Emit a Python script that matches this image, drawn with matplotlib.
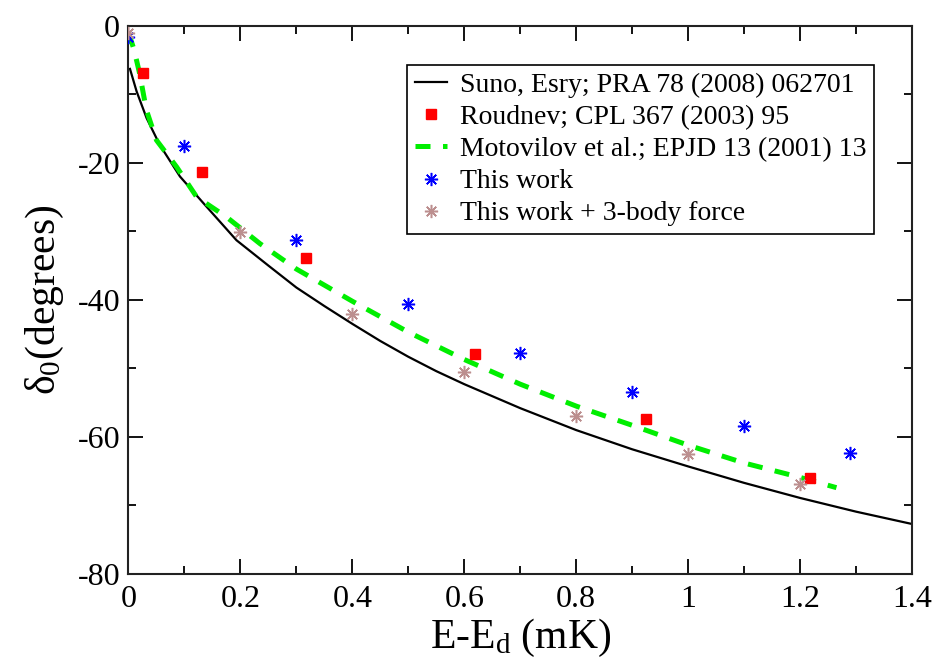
import matplotlib
matplotlib.use("Agg")
import matplotlib.pyplot as plt
from matplotlib.ticker import MultipleLocator

plt.rcParams['font.family'] = ['Liberation Serif', 'DejaVu Serif']
plt.rcParams['mathtext.fontset'] = 'custom'
plt.rcParams['mathtext.rm'] = 'Liberation Serif'
plt.rcParams['mathtext.it'] = 'Liberation Serif:italic'
plt.rcParams['axes.unicode_minus'] = False

# Suno & Esry curve
suno_x = [0.0027, 0.0146, 0.0325, 0.056, 0.092, 0.134, 0.193, 0.25, 0.3, 0.35, 0.4, 0.45,
          0.5, 0.55, 0.6, 0.7, 0.8, 0.9, 1.0, 1.1, 1.2, 1.3, 1.4]
suno_y = [-6.3, -9.6, -13.5, -17.4, -22.0, -25.9, -31.3, -35.0, -38.2, -40.9, -43.5, -46.0,
          -48.3, -50.4, -52.3, -55.8, -59.0, -61.8, -64.3, -66.7, -68.9, -70.9, -72.7]

# Roudnev points
roud_x = [0.026, 0.131, 0.317, 0.62, 0.925, 1.217]
roud_y = [-6.9, -21.4, -33.9, -47.9, -57.4, -66.0]

# Motovilov et al. curve
moto_x = [0.0, 0.01, 0.02, 0.032, 0.05, 0.086, 0.122, 0.175, 0.235, 0.3, 0.4, 0.5, 0.6, 0.7,
          0.8, 0.9, 1.0, 1.1, 1.2, 1.265]
moto_y = [-1.0, -3.5, -7.0, -12.3, -16.7, -20.6, -25.0, -27.9, -31.8, -35.5, -40.2, -44.7,
          -48.7, -52.3, -55.5, -58.3, -61.2, -63.8, -65.9, -67.4]

# This work
work_x = [0.0, 0.1, 0.3, 0.5, 0.7, 0.9, 1.1, 1.29]
work_y = [-1.65, -17.6, -31.3, -40.6, -47.8, -53.5, -58.4, -62.4]

# This work + 3-body force
work3_x = [0.0, 0.2, 0.4, 0.6, 0.8, 1.0, 1.2]
work3_y = [-1.1, -30.1, -42.1, -50.5, -57.0, -62.5, -66.9]

fig = plt.figure(figsize=(9.35, 6.66), dpi=100)
ax = fig.add_axes([0.1374, 0.1381, 0.9754 - 0.1374, 0.9614 - 0.1381])

star = (8, 2, 0)
ax.plot(suno_x, suno_y, color='black', lw=1.6, label='Suno, Esry; PRA 78 (2008) 062701', zorder=2)
ax.plot(roud_x, roud_y, ls='none', marker='s', ms=7.7, mfc='red', mec='red',
        label='Roudnev; CPL 367 (2003) 95', zorder=3)
ax.plot(moto_x, moto_y, color='#00ee00', lw=3.6, ls=(0, (3.0, 2.5)),
        label='Motovilov et al.; EPJD 13 (2001) 13', zorder=2)
ax.plot(work_x, work_y, ls='none', marker=star, ms=9.5, mec='blue', mew=1.1,
        label='This work', zorder=4)
ax.plot(work3_x, work3_y, ls='none', marker=star, ms=9.5, mec='#bc8f8f', mew=1.1,
        label='This work + 3-body force', zorder=4)

ax.set_xlim(0, 1.4)
ax.set_ylim(-80, 0)
ax.xaxis.set_major_locator(MultipleLocator(0.2))
ax.xaxis.set_minor_locator(MultipleLocator(0.1))
ax.yaxis.set_major_locator(MultipleLocator(20))
ax.yaxis.set_minor_locator(MultipleLocator(10))
ax.xaxis.set_major_formatter(plt.FuncFormatter(lambda v, p: f'{v:g}'))
ax.yaxis.set_major_formatter(plt.FuncFormatter(lambda v, p: f'{v:g}'))

ax.tick_params(which='both', direction='in', top=True, right=True, width=1.3, labelsize=23)
ax.tick_params(which='major', length=11)
ax.tick_params(which='minor', length=5.5)
ax.tick_params(axis='x', pad=8)
ax.tick_params(axis='y', pad=6)
for s in ax.spines.values():
    s.set_linewidth(1.5)
    s.set_color('#222222')

ax.set_xlabel('E-E$_\\mathrm{d}$ (mK)', fontsize=30, labelpad=2)
ax.set_ylabel('\u03b4$_0$(degrees)', fontsize=30, labelpad=8)

leg = ax.legend(loc='upper right', bbox_to_anchor=(0.9515, 0.9289),
                fontsize=20, frameon=True, fancybox=False, framealpha=1,
                edgecolor='black', borderpad=0.28, labelspacing=0.24,
                handlelength=1.15, handletextpad=0.47, borderaxespad=0)
leg.get_frame().set_linewidth(1.2)

fig.savefig('out.png', dpi=100)
